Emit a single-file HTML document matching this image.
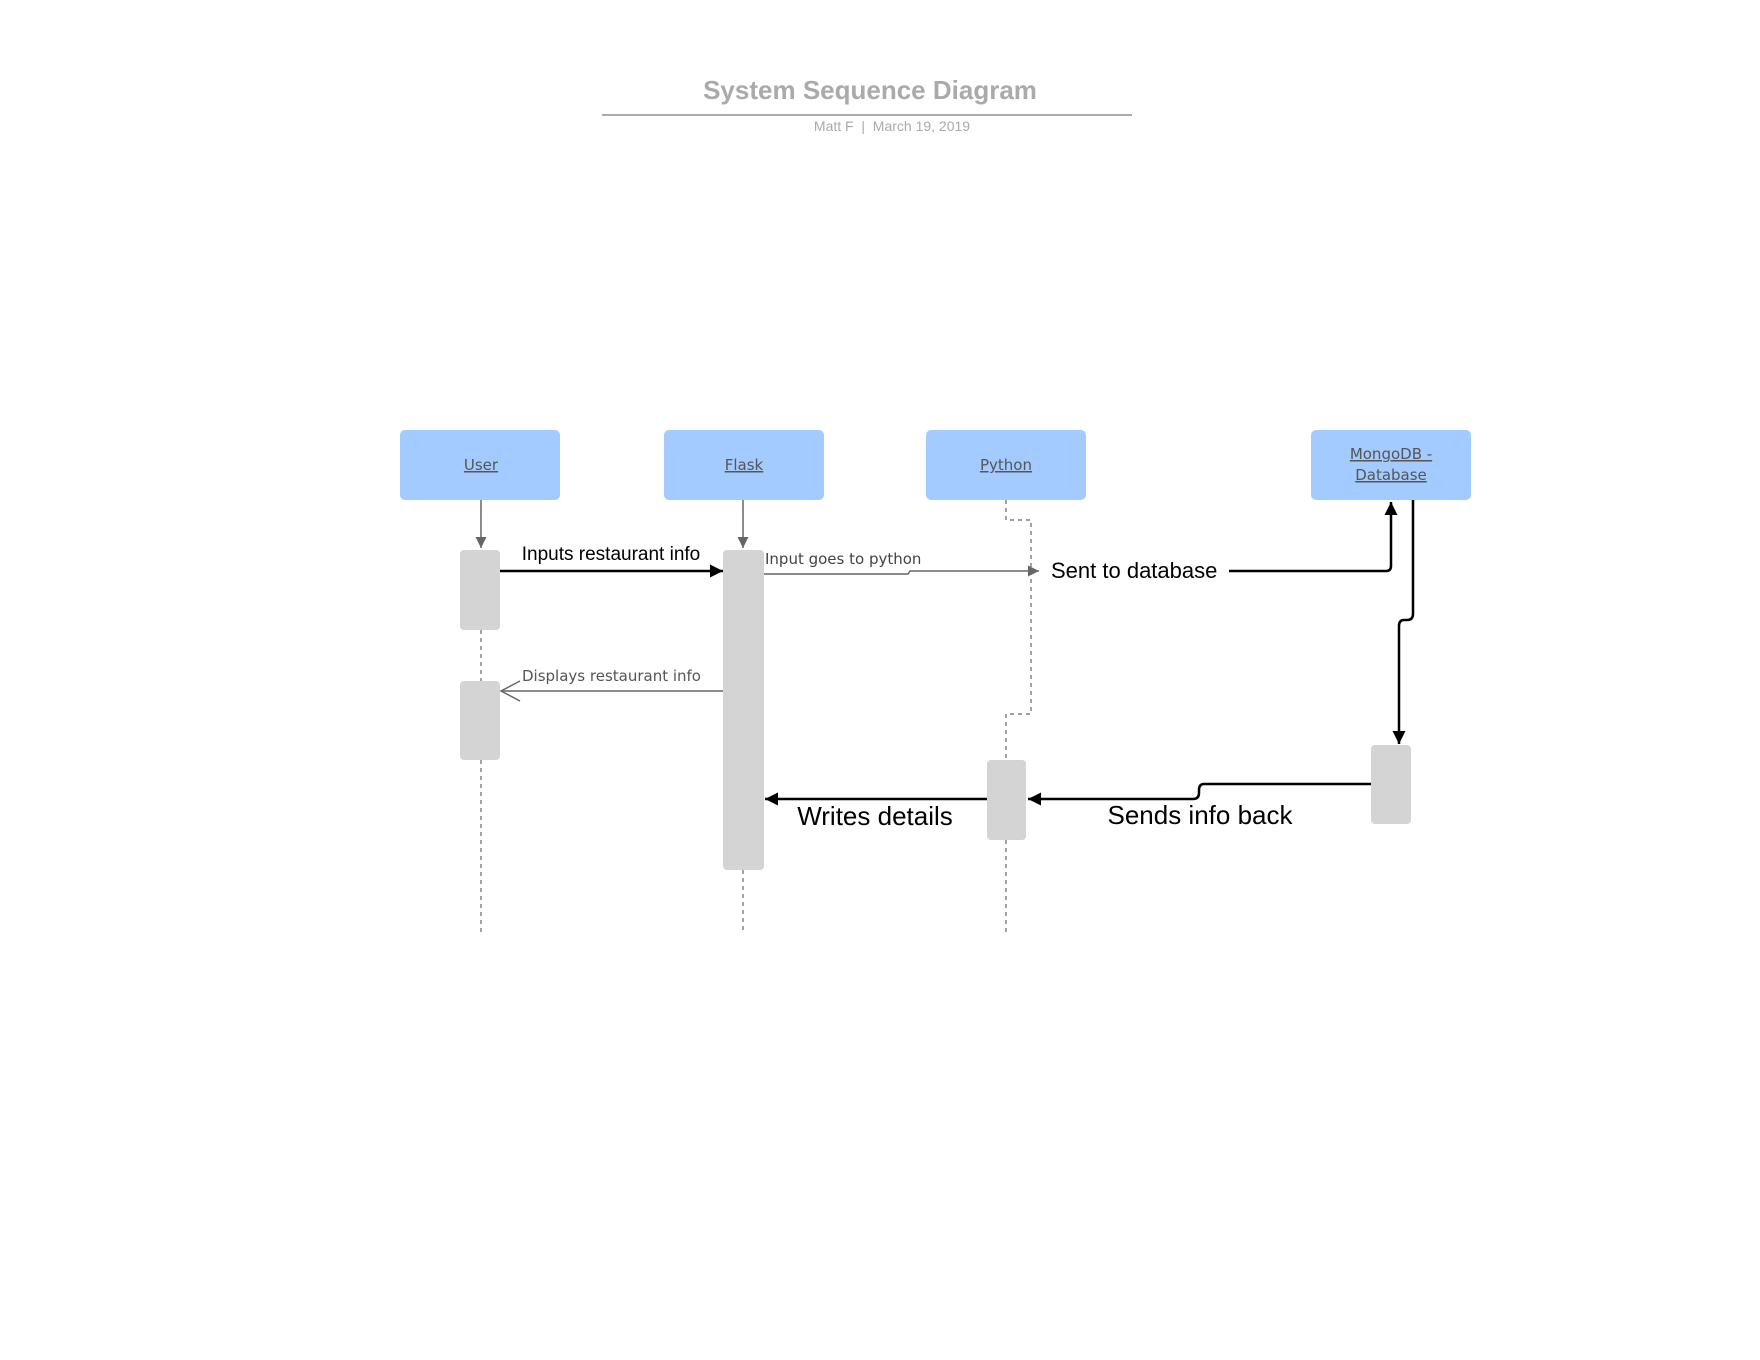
<!DOCTYPE html>
<html><head><meta charset="utf-8"><style>
body{margin:0;background:#fff;width:1760px;height:1360px;overflow:hidden}
svg{display:block}
</style></head><body>
<svg width="1760" height="1360" viewBox="0 0 1760 1360" xmlns="http://www.w3.org/2000/svg" font-family="Liberation Sans, sans-serif">
<defs>
<marker id="fg" viewBox="0 0 10 10" refX="10" refY="5" markerWidth="15" markerHeight="11" markerUnits="userSpaceOnUse" orient="auto"><path d="M0,0L10,5L0,10z" fill="#666"/></marker>
<marker id="fbl" viewBox="0 0 10 10" refX="10" refY="5" markerWidth="20" markerHeight="13" markerUnits="userSpaceOnUse" orient="auto"><path d="M0,0L10,5L0,10z" fill="#000"/></marker>
</defs>
<text x="870" y="99" text-anchor="middle" font-size="26" font-weight="bold" fill="#aaa">System Sequence Diagram</text>
<line x1="602" y1="115" x2="1132" y2="115" stroke="#aaa" stroke-width="2"/>
<text x="892" y="131" text-anchor="middle" font-size="14" fill="#aaa">Matt F &#160;|&#160; March 19, 2019</text>

<g fill="#a3cbff">
<rect x="400" y="430" width="160" height="70" rx="5"/>
<rect x="664" y="430" width="160" height="70" rx="5"/>
<rect x="926" y="430" width="160" height="70" rx="5"/>
<rect x="1311" y="430" width="160" height="70" rx="5"/>
</g>
<g font-family="DejaVu Sans, Liberation Sans, sans-serif" font-size="15" fill="#555" text-anchor="middle" text-decoration="underline">
<text x="481" y="470">User</text>
<text x="744" y="470">Flask</text>
<text x="1006" y="470">Python</text>
<text x="1391" y="459">MongoDB -</text>
<text x="1391" y="480">Database</text>
</g>

<g stroke="#666" stroke-width="1.2" stroke-dasharray="4,4" fill="none">
<line x1="481" y1="630" x2="481" y2="681"/>
<line x1="481" y1="760" x2="481" y2="932"/>
<line x1="743" y1="870" x2="743" y2="932"/>
<line x1="1006" y1="840" x2="1006" y2="932"/>
<path d="M1006,500V520H1031V714H1006V760"/>
</g>

<g stroke="#666" stroke-width="1.5">
<line x1="481" y1="500" x2="481" y2="548" marker-end="url(#fg)"/>
<line x1="743" y1="500" x2="743" y2="548" marker-end="url(#fg)"/>
</g>

<g fill="#d4d4d4">
<rect x="460" y="550" width="40" height="80" rx="4"/>
<rect x="460" y="681" width="40" height="79" rx="4"/>
<rect x="723" y="550" width="41" height="320" rx="4"/>
<rect x="987" y="760" width="39" height="80" rx="4"/>
<rect x="1371" y="745" width="40" height="79" rx="4"/>
</g>

<line x1="500" y1="571" x2="723" y2="571" stroke="#000" stroke-width="2.5" marker-end="url(#fbl)"/>
<text x="611" y="560" text-anchor="middle" font-size="19">Inputs restaurant info</text>

<path d="M764,574H908L910,571H1039" stroke="#666" stroke-width="1.5" fill="none" marker-end="url(#fg)"/>
<text x="765" y="564" font-family="DejaVu Sans, sans-serif" font-size="15" fill="#444">Input goes to python</text>

<text x="1051" y="578" font-size="22">Sent to database</text>
<path d="M1229,571H1386Q1391,571 1391,566V502" stroke="#000" stroke-width="2.5" fill="none" marker-end="url(#fbl)"/>

<path d="M1413,500V614Q1413,620 1407,620H1404Q1399,620 1399,626V744" stroke="#000" stroke-width="2.5" fill="none" marker-end="url(#fbl)"/>

<path d="M1371,784H1204Q1199,784 1199,790V793Q1199,799 1193,799H1028" stroke="#000" stroke-width="2.5" fill="none" marker-end="url(#fbl)"/>
<text x="1200" y="824" text-anchor="middle" font-size="26">Sends info back</text>

<line x1="987" y1="799" x2="765" y2="799" stroke="#000" stroke-width="2.5" marker-end="url(#fbl)"/>
<text x="875" y="825" text-anchor="middle" font-size="26">Writes details</text>

<line x1="723" y1="691" x2="501" y2="691" stroke="#666" stroke-width="1.5"/>
<path d="M520,681L501,691L520,701" stroke="#666" stroke-width="1.5" fill="none"/>
<text x="522" y="681" font-family="DejaVu Sans, sans-serif" font-size="15" fill="#555">Displays restaurant info</text>
</svg>
</body></html>
